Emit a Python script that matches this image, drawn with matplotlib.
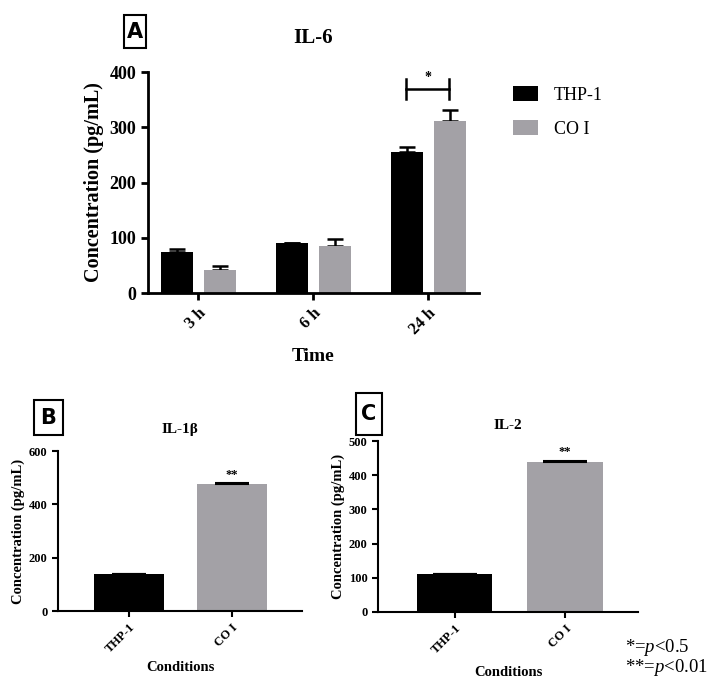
import matplotlib
matplotlib.use("Agg")
import matplotlib.pyplot as plt
from matplotlib.patches import Rectangle
import numpy as np

plt.rcParams['font.family'] = ['Liberation Serif', 'DejaVu Serif']
plt.rcParams['mathtext.fontset'] = 'custom'
plt.rcParams['mathtext.rm'] = 'Liberation Serif'
plt.rcParams['mathtext.it'] = 'Liberation Serif:italic'

# ---- data ----
il6_times = ["3 h", "6 h", "24 h"]
il6_thp1 = [75, 90, 256]
il6_thp1_err = [5, 0, 9]
il6_coi = [41, 86, 312]
il6_coi_err = [8, 12, 20]

cond_labels = ["THP-1", "CO I"]
il1b_vals = [138, 477]
il1b_err = [0, 2]
il2_vals = [111, 440]
il2_err = [1, 2]

series_names = ["THP-1", "CO I"]
BLACK = "#000000"
GRAY = "#a3a1a6"

fig = plt.figure(figsize=(7.21, 6.89), dpi=100)


def style_ax(ax, lw=1.8):
    for s in ["top", "right"]:
        ax.spines[s].set_visible(False)
    for s in ["left", "bottom"]:
        ax.spines[s].set_linewidth(lw)
    ax.tick_params(axis="both", direction="out", width=lw, length=5)


# ---- Panel A ----
axA = fig.add_axes([0.2053, 0.5747, 0.459, 0.3208])
x = np.arange(len(il6_times))
off = 0.187
w = 0.278
axA.bar(x - off, il6_thp1, w, color=BLACK, label=series_names[0], zorder=2)
axA.bar(x + off, il6_coi, w, color=GRAY, label=series_names[1], zorder=2)
axA.errorbar(x - off, il6_thp1, yerr=[np.zeros(3), il6_thp1_err], fmt="none",
             ecolor=BLACK, elinewidth=1.8, capsize=5.5, capthick=1.8, zorder=1)
axA.errorbar(x + off, il6_coi, yerr=[np.zeros(3), il6_coi_err], fmt="none",
             ecolor=BLACK, elinewidth=1.8, capsize=5.5, capthick=1.8, zorder=1)
axA.set_xlim(-0.435, 2.443)
axA.set_ylim(0, 400)
axA.set_yticks([0, 100, 200, 300, 400])
axA.set_xticks(x)
axA.set_xticklabels(il6_times, rotation=45, ha="right", rotation_mode="anchor",
                    fontsize=12, fontweight="bold")
for lab in axA.get_yticklabels():
    lab.set_fontsize(13)
    lab.set_fontweight("bold")
style_ax(axA, 2.0)
axA.set_ylabel("Concentration (pg/mL)", fontsize=14.5, fontweight="bold", labelpad=4)
axA.set_xlabel("Time", fontsize=14, fontweight="bold", labelpad=8)
axA.set_title("IL-6", fontsize=15, fontweight="bold", pad=21)
# significance bracket
bx0 = 2 - off - 0.005
bx1 = 2 + off - 0.005
by = 369
axA.plot([bx0, bx1], [by, by], color=BLACK, lw=1.8, clip_on=False)
axA.plot([bx0, bx0], [by - 18, by + 18], color=BLACK, lw=1.8, clip_on=False)
axA.plot([bx1, bx1], [by - 18, by + 18], color=BLACK, lw=1.8, clip_on=False)
axA.text(2 - 0.005, by + 9, "*", ha="center", va="bottom", fontsize=10, fontweight="bold")
axA.legend(loc="upper left", bbox_to_anchor=(1.08, 0.97), frameon=False,
           fontsize=13, handlelength=1.4, handleheight=0.9, handletextpad=0.9,
           labelspacing=0.9, borderaxespad=0)

# ---- Panel B ----
axB = fig.add_axes([0.0804, 0.1132, 0.3385, 0.2322])
xc = np.arange(2)
axB.bar(xc, il1b_vals, 0.68, color=[BLACK, GRAY], zorder=2)
axB.errorbar(xc, il1b_vals, yerr=[np.zeros(2), il1b_err], fmt="none", ecolor=BLACK,
             elinewidth=1.5, capsize=12, capthick=1.5, zorder=3)
axB.set_xlim(-0.689, 1.68)
axB.set_ylim(0, 600)
axB.set_yticks([0, 200, 400, 600])
axB.set_xticks(xc)
axB.set_xticklabels(cond_labels, rotation=45, ha="right", rotation_mode="anchor",
                    fontsize=9, fontweight="bold")
for lab in axB.get_yticklabels():
    lab.set_fontsize(9)
    lab.set_fontweight("bold")
style_ax(axB, 1.5)
axB.tick_params(length=4)
axB.set_ylabel("Concentration (pg/mL)", fontsize=10.5, fontweight="bold", labelpad=3)
axB.set_xlabel("Conditions", fontsize=10.5, fontweight="bold", labelpad=4)
axB.set_title("IL-1β", fontsize=11, fontweight="bold", pad=13)
axB.text(1, il1b_vals[1] + il1b_err[1] + 10, "**", ha="center", va="bottom",
         fontsize=9, fontweight="bold")

# ---- Panel C ----
axC = fig.add_axes([0.5243, 0.1118, 0.3606, 0.2481])
axC.bar(xc, il2_vals, 0.68, color=[BLACK, GRAY], zorder=2)
axC.errorbar(xc, il2_vals, yerr=[np.zeros(2), il2_err], fmt="none", ecolor=BLACK,
             elinewidth=1.5, capsize=16, capthick=1.5, zorder=3)
axC.set_xlim(-0.692, 1.66)
axC.set_ylim(0, 500)
axC.set_yticks([0, 100, 200, 300, 400, 500])
axC.set_xticks(xc)
axC.set_xticklabels(cond_labels, rotation=45, ha="right", rotation_mode="anchor",
                    fontsize=9, fontweight="bold")
for lab in axC.get_yticklabels():
    lab.set_fontsize(9)
    lab.set_fontweight("bold")
style_ax(axC, 1.5)
axC.tick_params(length=4)
axC.set_ylabel("Concentration (pg/mL)", fontsize=10.5, fontweight="bold", labelpad=3)
axC.set_xlabel("Conditions", fontsize=10.5, fontweight="bold", labelpad=7)
axC.set_title("IL-2", fontsize=11, fontweight="bold", pad=9)
axC.text(1, il2_vals[1] + il2_err[1] + 8, "**", ha="center", va="bottom",
         fontsize=9, fontweight="bold")

# ---- panel letter boxes ----
def letter_box(x0, y0, x1, y1, letter, fs):
    # pixel coords (top-left origin)
    W, H = 721, 689
    fig.patches.append(Rectangle((x0 / W, 1 - y1 / H), (x1 - x0) / W, (y1 - y0) / H,
                                 transform=fig.transFigure, fill=False,
                                 edgecolor="black", lw=1.5))
    fig.text((x0 + x1) / 2 / W, 1 - (y0 + y1) / 2 / H, letter, ha="center", va="center",
             fontsize=fs, fontweight="bold", family="DejaVu Sans")

letter_box(124, 15, 146, 48, "A", 15)
letter_box(34, 400, 63, 435, "B", 15)
letter_box(356, 393, 382, 435, "C", 15)

# ---- footnote ----
fig.text(625 / 721, 1 - 647 / 689, r"*=$\it{p}$<0.5", fontsize=13.5, ha="left", va="center")
fig.text(625 / 721, 1 - 668 / 689, r"**=$\it{p}$<0.01", fontsize=13.5, ha="left", va="center")

fig.savefig("out.png", dpi=100)
